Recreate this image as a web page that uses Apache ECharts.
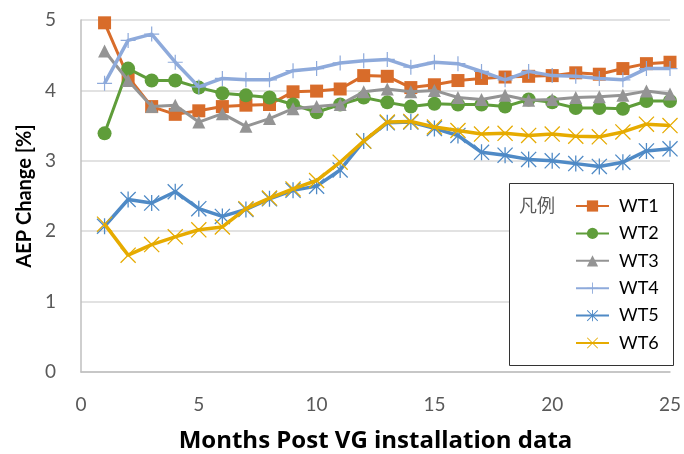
<!DOCTYPE html>
<html><head><meta charset="utf-8">
<script src="https://cdn.jsdelivr.net/npm/echarts@6/dist/echarts.min.js"></script>
<style>html,body{margin:0;padding:0;background:#fff}#c{width:684px;height:454px}</style>
</head><body><div id="c"></div>
<script>
const months = [1,2,3,4,5,6,7,8,9,10,11,12,13,14,15,16,17,18,19,20,21,22,23,24,25];
const seriesNames = ['WT1','WT2','WT3','WT4','WT5','WT6'];
const wt1 = [4.96,4.19,3.77,3.66,3.71,3.77,3.79,3.80,3.98,3.99,4.02,4.21,4.20,4.04,4.08,4.14,4.17,4.19,4.20,4.21,4.25,4.23,4.31,4.38,4.40];
const wt2 = [3.39,4.31,4.14,4.14,4.04,3.96,3.93,3.90,3.80,3.69,3.80,3.90,3.83,3.77,3.81,3.80,3.80,3.77,3.87,3.83,3.75,3.75,3.74,3.85,3.85];
const wt3 = [4.56,4.14,3.77,3.79,3.55,3.67,3.49,3.60,3.74,3.77,3.80,3.98,4.02,3.98,4.00,3.90,3.87,3.93,3.86,3.87,3.90,3.91,3.93,3.99,3.95];
const wt4 = [4.10,4.71,4.80,4.40,4.05,4.17,4.15,4.15,4.28,4.31,4.39,4.42,4.44,4.33,4.40,4.38,4.27,4.15,4.27,4.21,4.20,4.17,4.15,4.31,4.31];
const wt5 = [2.07,2.45,2.40,2.56,2.32,2.21,2.31,2.46,2.58,2.64,2.87,3.28,3.54,3.55,3.46,3.36,3.12,3.08,3.02,3.00,2.96,2.92,2.98,3.14,3.17];
const wt6 = [2.10,1.66,1.81,1.92,2.02,2.06,2.32,2.47,2.60,2.72,2.98,3.28,3.55,3.56,3.48,3.43,3.38,3.39,3.36,3.38,3.35,3.34,3.41,3.52,3.50];
const xTitle = 'Months Post VG installation data';
const yTitle = 'AEP Change [%]';
const legendTitle = '凡例';

const allData = [wt1, wt2, wt3, wt4, wt5, wt6];
const colors = ['#d86c2a', '#5f9d3a', '#949494', '#8eaadb', '#4f8ac6', '#e6ab00'];
const PLUS = 'path://M0,9.2 L20,9.2 L20,10.8 L0,10.8 Z M9.2,0 L10.8,0 L10.8,20 L9.2,20 Z';
const STAR = 'path://M9.2,0 L10.8,0 L10.8,20 L9.2,20 Z M0,1.13 L1.13,0 L20,18.87 L18.87,20 Z M18.87,0 L20,1.13 L1.13,20 L0,18.87 Z';
const XS = 'path://M0,1.13 L1.13,0 L20,18.87 L18.87,20 Z M18.87,0 L20,1.13 L1.13,20 L0,18.87 Z';
const symbols = ['rect', 'circle', 'triangle', PLUS, STAR, XS];
const sizes = [13, 14, 13, 15, 16, 16];
const widths = [3, 3, 3, 3.5, 3.5, 3.5];
const FONT = 'Lato, "Liberation Sans", sans-serif';

const chart = echarts.init(document.getElementById('c'), null, {renderer: 'canvas'});
chart.setOption({
  animation: false,
  backgroundColor: '#fff',
  color: colors,
  grid: {left: 81, right: 14, top: 20, bottom: 82, containLabel: false, outerBoundsMode: 'none'},
  xAxis: {
    type: 'value', min: 0, max: 25, interval: 5,
    name: xTitle, nameLocation: 'middle', nameGap: 57,
    nameTextStyle: {fontFamily: '"Open Sans", sans-serif', fontSize: 24, fontWeight: 'bold', color: '#000'},
    axisLine: {show: true, lineStyle: {color: '#bfbfbf', width: 1.5}},
    axisTick: {show: false},
    splitLine: {show: false},
    axisLabel: {fontFamily: FONT, fontSize: 19, color: '#595959', margin: 23}
  },
  yAxis: {
    type: 'value', min: 0, max: 5, interval: 1,
    axisLine: {show: true, lineStyle: {color: '#bfbfbf', width: 1.5}},
    axisTick: {show: false},
    splitLine: {show: true, lineStyle: {color: '#d9d9d9', width: 1.5}},
    axisLabel: {fontFamily: FONT, fontSize: 19, color: '#595959', margin: 25}
  },
  legend: {
    orient: 'vertical', left: 570, top: 192,
    itemWidth: 33, itemHeight: 14, itemGap: 9.4,
    textStyle: {fontFamily: FONT, fontSize: 18, color: '#000', lineHeight: 14, padding: [0,0,0,5]},
    data: seriesNames, z: 10
  },
  graphic: [
    {type: 'rect', z: 5, shape: {x: 509.5, y: 183.5, width: 164, height: 182},
     style: {fill: '#fff', stroke: '#333', lineWidth: 1}},
    {type: 'text', z: 6, left: 519, top: 196,
     style: {text: legendTitle, fontFamily: '"Noto Sans CJK JP", sans-serif', fontSize: 18, fill: '#595959'}},
    {type: 'text', z: 6, x: 25, y: 196, rotation: Math.PI / 2,
     style: {text: yTitle, fontFamily: FONT, fontSize: 20, fontWeight: 'bold', fill: '#000', align: 'center', verticalAlign: 'middle'}}
  ],
  series: seriesNames.map((n, i) => ({
    name: n, type: 'line',
    data: months.map((m, j) => [m, allData[i][j]]),
    symbol: symbols[i], symbolSize: sizes[i], showAllSymbol: true,
    lineStyle: {color: colors[i], width: widths[i]},
    itemStyle: {color: colors[i], borderWidth: 0},
    z: 2 + i * 0.01
  }))
});
</script></body></html>
